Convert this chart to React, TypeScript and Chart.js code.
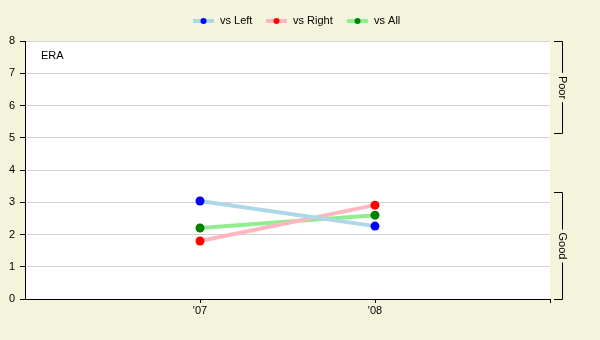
import React, { useEffect, useRef } from "react";
import { Chart, registerables } from "chart.js";

Chart.register(...registerables);

const categories = ["'07", "'08"];
const vsLeft = [3.04, 2.26];
const vsRight = [1.8, 2.91];
const vsAll = [2.2, 2.6];
const yTicks = [0, 1, 2, 3, 4, 5, 6, 7, 8];
const bandLabels = ["Poor", "Good"];
const bandRanges = [
  [5.15, 8],
  [0, 3.31],
];
const seriesNames = ["vs Left", "vs Right", "vs All"];
const lineColors = ["#ADD8E6", "#FFB6C1", "#90EE90"];
const pointColors = ["#0000FF", "#FF0000", "#008000"];

const FAMILY = "'Liberation Sans', Arial, sans-serif";
const FONT = "11px " + FAMILY;

export default function App() {
  const ref = useRef<HTMLCanvasElement | null>(null);
  useEffect(() => {
    if (!ref.current) return;
    const series = [vsLeft, vsRight, vsAll];
    const bgPlugin = {
      id: "bg",
      beforeDraw(chart: any) {
        const { ctx, chartArea: a } = chart;
        ctx.save();
        ctx.fillStyle = "#F4F4DC";
        ctx.fillRect(0, 0, chart.width, chart.height);
        ctx.fillStyle = "#FFFFFF";
        ctx.fillRect(a.left, a.top, a.right - a.left, a.bottom - a.top);
        ctx.restore();
      },
      afterDraw(chart: any) {
        const { ctx, chartArea: a } = chart;
        const ys = chart.scales.y;
        ctx.save();
        ctx.font = FONT;
        ctx.fillStyle = "#000";
        ctx.textBaseline = "middle";
        ctx.textAlign = "left";
        ctx.fillText("ERA", a.left + 16, a.top + 15);
        // legend
        const xs = [193, 266, 347];
        seriesNames.forEach((n, i) => {
          const x = xs[i];
          const y = 21;
          ctx.strokeStyle = lineColors[i];
          ctx.lineWidth = 4;
          ctx.beginPath();
          ctx.moveTo(x, y);
          ctx.lineTo(x + 21, y);
          ctx.stroke();
          ctx.fillStyle = pointColors[i];
          ctx.beginPath();
          ctx.arc(x + 10.5, y, 3, 0, Math.PI * 2);
          ctx.fill();
          ctx.fillStyle = "#000";
          ctx.fillText(n, x + 27, y);
        });
        // brackets
        ctx.strokeStyle = "#000";
        ctx.lineWidth = 1;
        const bx = 562.5;
        bandLabels.forEach((lab, i) => {
          const [lo, hi] = bandRanges[i];
          const yTop = Math.round(ys.getPixelForValue(hi)) + 0.5;
          const yBot = Math.round(ys.getPixelForValue(lo)) + 0.5;
          const mid = (yTop + yBot) / 2;
          const w = ctx.measureText(lab).width;
          ctx.beginPath();
          ctx.moveTo(554, yTop);
          ctx.lineTo(bx, yTop);
          ctx.lineTo(bx, mid - w / 2 - 3);
          ctx.moveTo(bx, mid + w / 2 + 3);
          ctx.lineTo(bx, yBot);
          ctx.lineTo(554, yBot);
          ctx.stroke();
          ctx.save();
          ctx.translate(bx, mid);
          ctx.rotate(Math.PI / 2);
          ctx.textAlign = "center";
          ctx.textBaseline = "middle";
          ctx.fillStyle = "#000";
          ctx.fillText(lab, 0, 0);
          ctx.restore();
        });
        ctx.restore();
      },
    };
    const chart = new Chart(ref.current, {
      type: "line",
      data: {
        datasets: series.map((s, i) => ({
          label: seriesNames[i],
          data: s.map((v, j) => ({ x: j + 1, y: v })),
          borderColor: lineColors[i],
          backgroundColor: pointColors[i],
          pointBackgroundColor: pointColors[i],
          pointBorderColor: pointColors[i],
          borderWidth: 4,
          pointRadius: 4.5,
          pointBorderWidth: 0,
          tension: 0,
        })),
      },
      options: {
        animation: false,
        responsive: false,
        layout: { padding: { left: 0, top: 41, right: 50, bottom: 0 } },
        plugins: { legend: { display: false }, tooltip: { enabled: false } },
        scales: {
          x: {
            type: "linear",
            min: 0,
            max: 3,
            afterBuildTicks: (scale: any) => {
              scale.ticks = [{ value: 1 }, { value: 2 }, { value: 3 }];
            },
            afterFit: (scale: any) => {
              scale.height = 41;
            },
            ticks: {
              color: "#000",
              font: { family: FAMILY, size: 11 },
              padding: 1,
              maxRotation: 0,
              autoSkip: false,
              callback: (v: any) => categories[Number(v) - 1] ?? "",
            },
            grid: { drawOnChartArea: false, tickColor: "#000", tickLength: 4 },
            border: { color: "#000" },
          },
          y: {
            min: 0,
            max: 8,
            afterBuildTicks: (scale: any) => {
              scale.ticks = yTicks.map((v) => ({ value: v }));
            },
            afterFit: (scale: any) => {
              scale.width = 25;
            },
            ticks: {
              color: "#000",
              font: { family: FAMILY, size: 11 },
              padding: 5,
            },
            grid: { color: "#D3D3D3", tickColor: "#000", tickLength: 5 },
            border: { color: "#000" },
          },
        },
      },
      plugins: [bgPlugin],
    });
    return () => chart.destroy();
  }, []);
  return (
    <div style={{ position: "fixed", left: 0, top: 0, width: 600, height: 340 }}>
      <canvas ref={ref} width={600} height={340} style={{ display: "block" }} />
    </div>
  );
}
